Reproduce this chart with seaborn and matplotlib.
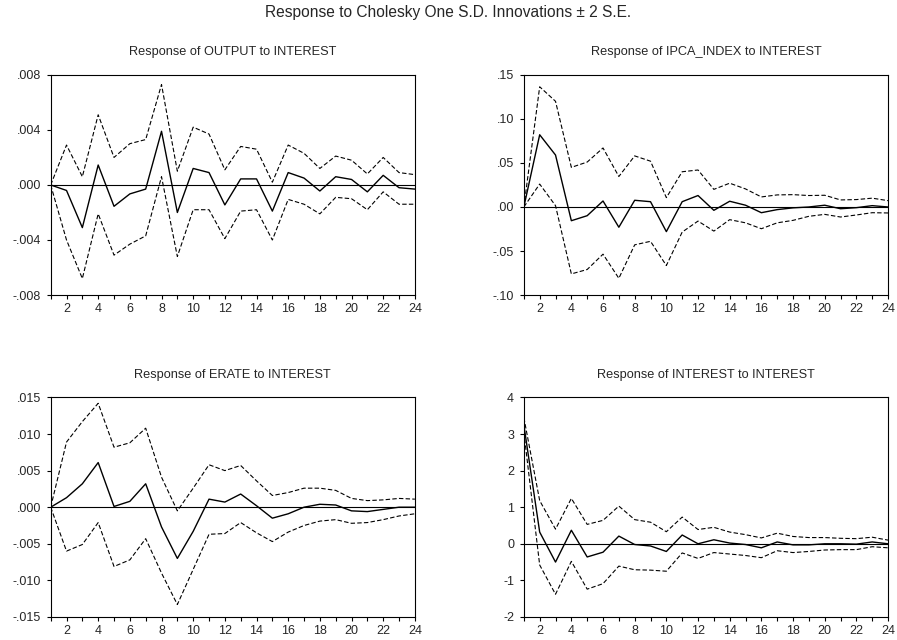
import numpy as np
import pandas as pd
import matplotlib
matplotlib.use("Agg")
import matplotlib.pyplot as plt
import seaborn as sns
from matplotlib.ticker import FuncFormatter, MultipleLocator, FixedLocator

periods = list(range(1, 25))

output_resp = [0, -0.0004, -0.0031, 0.00145, -0.00155, -0.00065, -0.0003, 0.0039, -0.002, 0.0012,
               0.0009, -0.00145, 0.00044, 0.00044, -0.0019, 0.0009, 0.0005, -0.00044, 0.0006, 0.0004,
               -0.0005, 0.0007, -0.0002, -0.0003]
output_up = [0, 0.0029, 0.0006, 0.0051, 0.002, 0.003, 0.0033, 0.0073, 0.001, 0.0042,
             0.0037, 0.0011, 0.0028, 0.0026, 0.0002, 0.0029, 0.0023, 0.0012, 0.0021, 0.0018,
             0.0008, 0.002, 0.0009, 0.00075]
output_lo = [0, -0.004, -0.0068, -0.0021, -0.0051, -0.0043, -0.0037, 0.0006, -0.0052, -0.0018,
             -0.0018, -0.0039, -0.0019, -0.0018, -0.004, -0.00105, -0.0014, -0.0021, -0.0009, -0.001,
             -0.0018, -0.0005, -0.0014, -0.0014]

ipca_resp = [0, 0.082, 0.059, -0.0156, -0.0099, 0.0068, -0.023, 0.0076, 0.006, -0.028,
             0.006, 0.013, -0.0038, 0.0065, 0.002, -0.0065, -0.003, -0.001, 0.0, 0.002,
             -0.002, -0.0008, 0.0015, 0.0]
ipca_up = [0, 0.1365, 0.12, 0.045, 0.051, 0.067, 0.0346, 0.058, 0.052, 0.0106,
           0.04, 0.042, 0.020, 0.027, 0.0205, 0.0114, 0.0137, 0.014, 0.013, 0.0133,
           0.008, 0.0084, 0.01, 0.0072]
ipca_lo = [0, 0.026, 0.0015, -0.076, -0.071, -0.0536, -0.081, -0.043, -0.039, -0.0665,
           -0.0285, -0.016, -0.0274, -0.0144, -0.018, -0.0247, -0.018, -0.0152, -0.0106, -0.0084,
           -0.0114, -0.0091, -0.0065, -0.0068]

erate_resp = [0, 0.0013, 0.0032, 0.0061, 0.0001, 0.0008, 0.0032, -0.0027, -0.007, -0.0033,
              0.0011, 0.0007, 0.0018, 0.0002, -0.0015, -0.0009, 0.0, 0.0004, 0.0003, -0.0005,
              -0.0006, -0.0003, 0.0, 0.0]
erate_up = [0, 0.0089, 0.0117, 0.0142, 0.0082, 0.0088, 0.0108, 0.0041, -0.0005, 0.0026,
            0.0058, 0.005, 0.0057, 0.0036, 0.0016, 0.002, 0.0026, 0.0026, 0.0023, 0.0012,
            0.0009, 0.001, 0.0012, 0.0011]
erate_lo = [0, -0.006, -0.0051, -0.0021, -0.0081, -0.0072, -0.0043, -0.009, -0.0133, -0.0085,
            -0.0037, -0.0036, -0.0021, -0.0035, -0.0047, -0.0034, -0.0025, -0.0019, -0.0017, -0.0022,
            -0.0021, -0.0017, -0.0012, -0.0009]

int_resp = [3.25, 0.32, -0.5, 0.37, -0.36, -0.23, 0.21, -0.02, -0.06, -0.21,
            0.24, 0.0, 0.11, 0.02, -0.02, -0.11, 0.05, -0.03, -0.03, 0.0,
            0.0, -0.01, 0.05, 0.0]
int_up = [3.45, 1.18, 0.4, 1.24, 0.53, 0.64, 1.03, 0.66, 0.59, 0.33,
          0.73, 0.39, 0.45, 0.32, 0.25, 0.16, 0.29, 0.2, 0.17, 0.17,
          0.15, 0.14, 0.18, 0.1]
int_lo = [3.05, -0.58, -1.38, -0.48, -1.24, -1.09, -0.61, -0.71, -0.72, -0.75,
          -0.25, -0.4, -0.24, -0.28, -0.32, -0.38, -0.19, -0.24, -0.21, -0.17,
          -0.16, -0.16, -0.08, -0.11]

titles = ["Response of OUTPUT to INTEREST", "Response of IPCA_INDEX to INTEREST",
          "Response of ERATE to INTEREST", "Response of INTEREST to INTEREST"]
suptitle = "Response to Cholesky One S.D. Innovations \u00b1 2 S.E."

sns.set_style("ticks")
plt.rcParams['font.family'] = ['Liberation Sans', 'DejaVu Sans']

fig = plt.figure(figsize=(8.97, 6.40), dpi=100)

positions = [
    [0.0565, 0.539, 0.406, 0.344],
    [0.584, 0.539, 0.406, 0.344],
    [0.0565, 0.036, 0.406, 0.343],
    [0.584, 0.036, 0.406, 0.343],
]
series = [(output_resp, output_up, output_lo),
          (ipca_resp, ipca_up, ipca_lo),
          (erate_resp, erate_up, erate_lo),
          (int_resp, int_up, int_lo)]
ylims = [(-0.008, 0.008), (-0.10, 0.15), (-0.015, 0.015), (-2, 4)]
ysteps = [0.004, 0.05, 0.005, 1]
fmts = [
    lambda v, p: ("%.3f" % v).replace("0.", ".") if abs(v) > 1e-12 else ".000",
    lambda v, p: ("%.2f" % v).replace("0.", ".") if abs(v) > 1e-12 else ".00",
    lambda v, p: ("%.3f" % v).replace("0.", ".") if abs(v) > 1e-12 else ".000",
    lambda v, p: "%d" % round(v),
]

for i in range(4):
    ax = fig.add_axes(positions[i])
    resp, up, lo = series[i]
    df = pd.DataFrame({"period": periods, "resp": resp, "up": up, "lo": lo})
    ax.axhline(0, color="black", lw=0.8, zorder=1)
    sns.lineplot(data=df, x="period", y="up", ax=ax, color="black", lw=0.8)
    sns.lineplot(data=df, x="period", y="lo", ax=ax, color="black", lw=0.8)
    sns.lineplot(data=df, x="period", y="resp", ax=ax, color="black", lw=1.0)
    for ln in ax.lines[1:3]:
        ln.set_linestyle((0, (4, 2)))
    ax.set_xlim(1, 24)
    ax.set_ylim(*ylims[i])
    ax.yaxis.set_major_locator(MultipleLocator(ysteps[i]))
    ax.yaxis.set_major_formatter(FuncFormatter(fmts[i]))
    ax.xaxis.set_major_locator(FixedLocator(list(range(2, 25, 2))))
    ax.xaxis.set_minor_locator(FixedLocator(list(range(1, 25, 2))))
    ax.tick_params(axis="x", which="both", direction="out", length=3, width=0.8, pad=3,
                   labelsize=9, color="black")
    ax.tick_params(axis="y", direction="out", length=3, width=0.8, pad=4,
                   labelsize=9, color="black")
    ax.set_xlabel("")
    ax.set_ylabel("")
    for s in ax.spines.values():
        s.set_linewidth(0.8)
        s.set_color("black")
    ax.set_title(titles[i], fontsize=9.2, pad=14)

fig.suptitle(suptitle, fontsize=11.2, y=0.981, va="center")
fig.savefig("out.png", dpi=100)
